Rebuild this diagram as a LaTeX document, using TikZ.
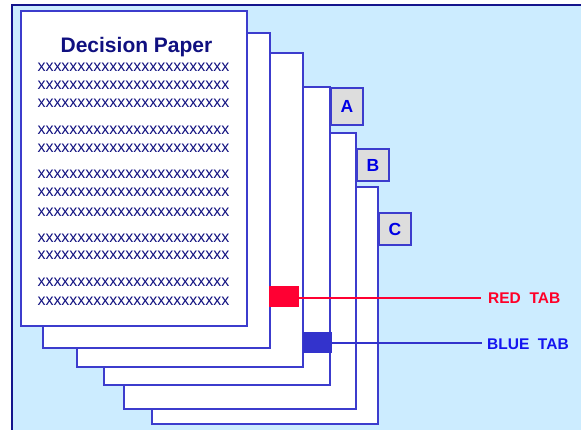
\documentclass[tikz,border=0pt]{standalone}
\usepackage{fontspec}
\setmainfont{Liberation Sans}
\definecolor{bgblue}{RGB}{204,236,255}
\definecolor{framenavy}{RGB}{20,20,140}
\definecolor{pageedge}{RGB}{60,60,205}
\definecolor{textnavy}{RGB}{16,16,128}
\definecolor{tabgray}{RGB}{221,221,221}
\definecolor{tabred}{RGB}{255,0,51}
\definecolor{tabblue}{RGB}{51,51,204}
\definecolor{labelred}{RGB}{255,0,40}
\definecolor{labelblue}{RGB}{20,20,240}
\tikzset{
  pagebox/.style={draw=pageedge, line width=1.1pt, fill=white},
  tabbox/.style={draw=pageedge, line width=1.1pt, fill=tabgray},
  tabletter/.style={font=\fontsize{17.5}{17.5}\selectfont\bfseries, text=blue!90!black, inner sep=0pt},
  xrow/.style={font=\fontsize{16}{16}\selectfont, text=textnavy, inner sep=0pt, anchor=center},
  labeltext/.style={font=\fontsize{15.5}{15.5}\selectfont\bfseries, inner sep=0pt, anchor=base west},
}
\begin{document}
\begin{tikzpicture}[x=1pt,y=-1pt]
\useasboundingbox (0,0) rectangle (581,429);
\begin{scope}
\clip (0,0) rectangle (581,429);
\draw[fill=bgblue, draw=framenavy, line width=1.6pt] (12,5) rectangle (600,450);
% pages, back to front
\draw[pagebox] (152,187) rectangle (378,424);
\draw[pagebox] (124,133) rectangle (356,409);
\draw[pagebox] (104,87) rectangle (330,385);
\draw[pagebox] (77,53) rectangle (303,367);
\draw[pagebox] (43,33) rectangle (270,348);
\draw[pagebox] (21,11) rectangle (247,326);
\end{scope}
% tabs A B C
\node[tabbox, minimum width=32pt, minimum height=37pt, inner sep=0pt] (tabA) at (347,106.5) {};
\node[tabletter] at (tabA.center) {A};
\node[tabbox, minimum width=32pt, minimum height=32pt, inner sep=0pt] (tabB) at (373,165) {};
\node[tabletter] at (tabB.center) {B};
\node[tabbox, minimum width=32pt, minimum height=32pt, inner sep=0pt] (tabC) at (395,229) {};
\node[tabletter] at (tabC.center) {C};
% title and text
\node[font=\fontsize{21}{21}\selectfont\bfseries, text=textnavy, inner sep=0pt, anchor=base] (title) at (136.5,52) {Decision Paper};
\foreach \yy [count=\i] in {67.5,85.5,103.5,130.3,148,174.5,192,212,238.7,255.7,282,301} {
  \node[xrow] (row\i) at (133.5,\yy) {xxxxxxxxxxxxxxxxxxxxxxxx};
}
% coloured tabs
\node[fill=tabred, minimum width=30pt, minimum height=21pt, inner sep=0pt] (redtab) at (284,296.5) {};
\node[fill=tabblue, minimum width=29pt, minimum height=21pt, inner sep=0pt] (bluetab) at (317.5,342.5) {};
% labels
\node[labeltext, text=labelred] (redlabel) at (488,303) {RED\ \ TAB};
\node[labeltext, text=labelblue] (bluelabel) at (487,349.5) {BLUE\ \ TAB};
\coordinate (redend) at (481,298);
\coordinate (blueend) at (482,343);
\draw[draw=tabred, line width=1.3pt] (redtab.east |- redend) -- (redend);
\draw[draw=tabblue, line width=1.1pt] (bluetab.east |- blueend) -- (blueend);
\end{tikzpicture}
\end{document}
